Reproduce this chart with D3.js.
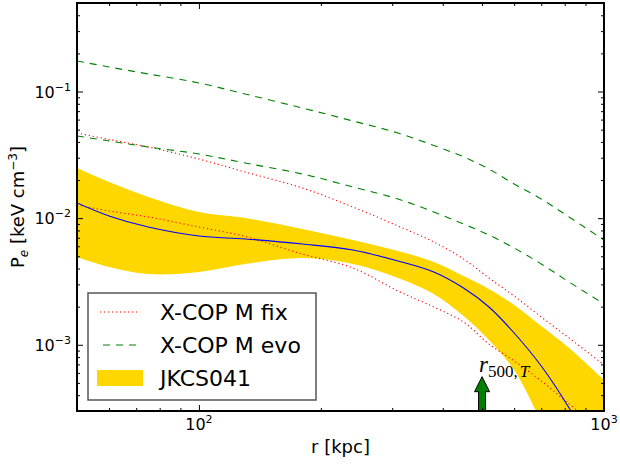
<!DOCTYPE html>
<html>
<head>
<meta charset="utf-8">
<script src="https://cdn.jsdelivr.net/npm/d3@7"></script>
<style>
  html, body { margin: 0; padding: 0; background: #fff; }
  svg { display: block; }
  text { font-family: "DejaVu Sans", sans-serif; }
</style>
</head>
<body>
<svg id="chart" width="620" height="464"></svg>
<script>
// ---------------- data ----------------
const radius       = [50, 60, 75, 100, 130, 180, 240, 310, 380, 450, 520, 600, 700, 820, 1000];
const xcopFixHigh  = [0.0470, 0.0418, 0.03647, 0.02931, 0.02314, 0.01730, 0.01225, 0.00867, 0.00648, 0.00476, 0.003368, 0.002428, 0.001657, 0.001131, 0.000693];
const xcopFixLow   = [0.01270, 0.01139, 0.01021, 0.00851, 0.00716, 0.00521, 0.00404, 0.002659, 0.001988, 0.001513, 0.001014, 0.000745, 0.000518, 0.000341, 0.000205];
const xcopEvoHigh  = [0.1742, 0.1562, 0.1375, 0.1168, 0.0956, 0.0741, 0.0585, 0.0470, 0.0375, 0.0305, 0.02444, 0.01861, 0.01417, 0.01021, 0.00672];
const xcopEvoLow   = [0.04455, 0.04068, 0.03647, 0.03211, 0.02726, 0.02232, 0.01762, 0.01417, 0.01118, 0.00899, 0.00736, 0.00581, 0.004345, 0.003131, 0.002100];
const jkcsProfile  = [0.01317, 0.01040, 0.00851, 0.00723, 0.00685, 0.00625, 0.00560, 0.00459, 0.003757, 0.002808, 0.001988, 0.001239, 0.000680, 0.000317, 0.0001026];
const jkcsUpper    = [0.02489, 0.01930, 0.01469, 0.01118, 0.01003, 0.00821, 0.00672, 0.00550, 0.00451, 0.003493, 0.002757, 0.002062, 0.001407, 0.000943, 0.000527];
const jkcsLower    = [0.004934, 0.004115, 0.003622, 0.003757, 0.004345, 0.004845, 0.004345, 0.003368, 0.002518, 0.001688, 0.001091, 0.000632, 0.000246, 0.0000856, 0.0000200];

const xDomain = [50, 1000];
const yDomain = [3e-4, 0.5];
const xMajorTicks = [100, 1000];
const xMajorLabels = [["10", "2"], ["10", "3"]];
const xMinorTicks = [60, 70, 80, 90, 200, 300, 400, 500, 600, 700, 800, 900];
const yMajorTicks = [1e-3, 1e-2, 1e-1];
const yMajorLabels = [["10", "\u22123"], ["10", "\u22122"], ["10", "\u22121"]];
const yMinorTicks = [4e-4, 5e-4, 6e-4, 7e-4, 8e-4, 9e-4,
                     2e-3, 3e-3, 4e-3, 5e-3, 6e-3, 7e-3, 8e-3, 9e-3,
                     2e-2, 3e-2, 4e-2, 5e-2, 6e-2, 7e-2, 8e-2, 9e-2,
                     2e-1, 3e-1, 4e-1];
const legendLabels = ["X-COP M fix", "X-COP M evo", "JKCS041"];
const r500 = 500;
const arrowTipP = 5.6e-4;

// ---------------- layout ----------------
const svg = d3.select("#chart");
const L = 77, R = 604, T = 3, B = 411;
const x = d3.scaleLog().domain(xDomain).range([L, R]);
const y = d3.scaleLog().domain(yDomain).range([B, T]);

svg.append("defs").append("clipPath").attr("id", "clip")
  .append("rect").attr("x", L).attr("y", T).attr("width", R - L).attr("height", B - T);

const plot = svg.append("g").attr("clip-path", "url(#clip)");

const pts = vals => radius.map((r, i) => [r, vals[i]]);
const curve = d3.curveCatmullRom.alpha(0.5);
const line = d3.line().x(d => x(d[0])).y(d => y(d[1])).curve(curve);

// band
const band = d3.area()
  .x((d, i) => x(radius[i]))
  .y0((d, i) => y(jkcsLower[i]))
  .y1((d, i) => y(jkcsUpper[i]))
  .curve(curve);
plot.append("path").datum(radius).attr("d", band).attr("fill", "#FFD700").attr("stroke", "none");

// X-COP lines
[xcopFixHigh, xcopFixLow].forEach(v => {
  plot.append("path").datum(pts(v)).attr("d", line)
    .attr("fill", "none").attr("stroke", "red").attr("stroke-width", 1.1)
    .attr("stroke-dasharray", "1.2,2.8");
});
[xcopEvoHigh, xcopEvoLow].forEach(v => {
  plot.append("path").datum(pts(v)).attr("d", line)
    .attr("fill", "none").attr("stroke", "green").attr("stroke-width", 1.1)
    .attr("stroke-dasharray", "7,6");
});
// JKCS profile
plot.append("path").datum(pts(jkcsProfile)).attr("d", line)
  .attr("fill", "none").attr("stroke", "blue").attr("stroke-width", 1.1);

// r500 arrow
const ax = x(r500), ab = y(yDomain[0]), at = y(arrowTipP);
const sw = 3.5, hw = 7.5, hl = 15;
const arrowPath = d3.path();
arrowPath.moveTo(ax - sw, ab + 2);
arrowPath.lineTo(ax - sw, at + hl);
arrowPath.lineTo(ax - hw, at + hl);
arrowPath.lineTo(ax, at);
arrowPath.lineTo(ax + hw, at + hl);
arrowPath.lineTo(ax + sw, at + hl);
arrowPath.lineTo(ax + sw, ab + 2);
arrowPath.closePath();
plot.append("path").attr("d", arrowPath.toString())
  .attr("fill", "green").attr("stroke", "black").attr("stroke-width", 1);

const lab = svg.append("text").attr("x", ax - 3).attr("y", at - 5)
  .style("font-family", "'Liberation Serif', 'DejaVu Serif', serif");
lab.append("tspan").attr("font-style", "italic").attr("font-size", 23).text("r");
lab.append("tspan").attr("font-size", 17).attr("dy", 5).text("500,");
lab.append("tspan").attr("font-size", 17).attr("dx", 2).attr("font-style", "italic").text("T");

// ---------------- axes ----------------
function ticks(axisFn, scale, vals, len, tr) {
  const g = svg.append("g").attr("transform", tr)
    .call(axisFn(scale).tickValues(vals).tickSize(-len).tickFormat(""));
  g.select(".domain").remove();
  g.selectAll(".tick line").attr("stroke", "#000").attr("stroke-width", 1);
}
ticks(d3.axisBottom, x, xMajorTicks, 6, `translate(0,${B})`);
ticks(d3.axisBottom, x, xMinorTicks, 3, `translate(0,${B})`);
ticks(d3.axisTop, x, xMajorTicks, 6, `translate(0,${T})`);
ticks(d3.axisTop, x, xMinorTicks, 3, `translate(0,${T})`);
ticks(d3.axisLeft, y, yMajorTicks, 6, `translate(${L},0)`);
ticks(d3.axisLeft, y, yMinorTicks, 3, `translate(${L},0)`);
ticks(d3.axisRight, y, yMajorTicks, 6, `translate(${R},0)`);
ticks(d3.axisRight, y, yMinorTicks, 3, `translate(${R},0)`);

// frame
svg.append("rect").attr("x", L).attr("y", T).attr("width", R - L).attr("height", B - T)
  .attr("fill", "none").attr("stroke", "#000").attr("stroke-width", 2);

// tick labels
xMajorTicks.forEach((v, i) => {
  const t = svg.append("text").attr("x", x(v)).attr("y", 430)
    .attr("text-anchor", "middle").attr("font-size", 16);
  t.append("tspan").text(xMajorLabels[i][0]);
  t.append("tspan").attr("font-size", 11).attr("dy", -7).text(xMajorLabels[i][1]);
});
yMajorTicks.forEach((v, i) => {
  const t = svg.append("text").attr("x", 71).attr("y", y(v) + 6)
    .attr("text-anchor", "end").attr("font-size", 16);
  t.append("tspan").text(yMajorLabels[i][0]);
  t.append("tspan").attr("font-size", 11).attr("dy", -7).text(yMajorLabels[i][1]);
});

// axis labels
svg.append("text").attr("x", (L + R) / 2).attr("y", 453)
  .attr("text-anchor", "middle").attr("font-size", 18).text("r [kpc]");

const yl = svg.append("text")
  .attr("transform", `translate(24,${(T + B) / 2}) rotate(-90)`)
  .attr("text-anchor", "middle").attr("font-size", 18);
yl.append("tspan").text("P");
yl.append("tspan").attr("font-size", 12).attr("font-style", "italic").attr("dy", 4).text("e");
yl.append("tspan").attr("dy", -4).text(" [keV cm");
yl.append("tspan").attr("font-size", 12).attr("dy", -7).text("\u22123");
yl.append("tspan").attr("dy", 7).text("]");

// ---------------- legend ----------------
const lg = svg.append("g");
lg.append("rect").attr("x", 88).attr("y", 293).attr("width", 228).attr("height", 107)
  .attr("fill", "#fff").attr("stroke", "#555").attr("stroke-width", 1.5);
const rowY = [312, 345, 378];
lg.append("line").attr("x1", 100).attr("x2", 137).attr("y1", rowY[0]).attr("y2", rowY[0])
  .attr("stroke", "red").attr("stroke-width", 1.1).attr("stroke-dasharray", "1.2,2.8");
lg.append("line").attr("x1", 103).attr("x2", 137).attr("y1", rowY[1]).attr("y2", rowY[1])
  .attr("stroke", "green").attr("stroke-width", 1.1).attr("stroke-dasharray", "7,6");
lg.append("rect").attr("x", 97).attr("y", rowY[2] - 8).attr("width", 46).attr("height", 16)
  .attr("fill", "#FFD700");
legendLabels.forEach((s, i) => {
  lg.append("text").attr("x", 160).attr("y", rowY[i] + 8).attr("font-size", 22).text(s);
});
</script>
</body>
</html>
